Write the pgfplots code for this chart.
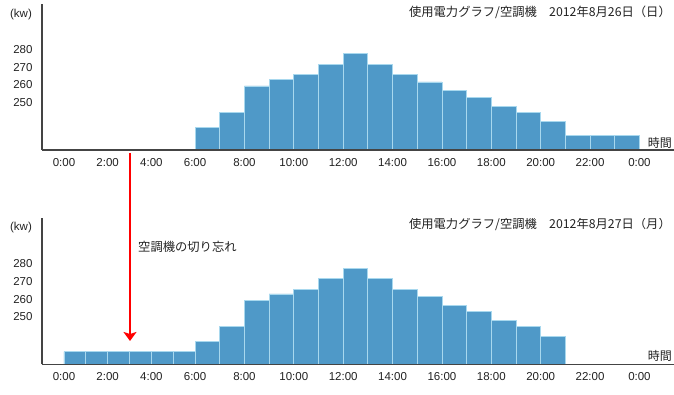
\documentclass[border=0pt]{standalone}
\usepackage{pgfplots}
\pgfplotsset{compat=1.18}
\usepackage{fontspec}
\setmainfont{Liberation Sans}
\newfontfamily\jp{Noto Sans CJK JP}
\usetikzlibrary{arrows.meta}
\definecolor{barfill}{HTML}{4F99C8}
\definecolor{baredge}{HTML}{A8D8EE}
\definecolor{axisgray}{HTML}{444444}
\definecolor{txt}{HTML}{222222}

\pgfplotsset{
  kwstyle/.style={
    scale only axis,
    width=632pt, height=146pt,
    anchor=south west,
    xmin=-1.006, xmax=25.4,
    ymin=223, ymax=306,
    x coord trafo/.code={\pgfmathparse{##1+0.115*max(6-##1,0)}},
    axis x line*=bottom, axis y line*=left,
    axis line style={-, draw=axisgray, line width=1.1pt},
    axis on top,
    major tick length=0pt,
    xtick={0,2,4,6,8,10,12,14,16,18,20,22,24},
    xticklabels={0:00,2:00,4:00,6:00,8:00,10:00,12:00,14:00,16:00,18:00,20:00,22:00,0:00},
    ytick={250,260,270,280},
    /pgf/number format/assume math mode=true,
    tick label style={font=\fontsize{11.5}{13}\selectfont, text=txt},
    yticklabel style={xshift=-6pt},
    xticklabel style={yshift=-4.5pt},
    clip=true,
  }
}

\begin{document}
\begin{tikzpicture}
% top chart: 2012-08-26
\begin{axis}[kwstyle, at={(42pt,245pt)}]
\addplot[ybar interval, fill=barfill, draw=baredge, line width=0.8pt] coordinates {
(6,235.9) (7,244.3) (8,259.4) (9,263.0) (10,265.7) (11,271.7) (12,277.7)
(13,271.7) (14,265.8) (15,261.7) (16,256.7) (17,253.1) (18,247.7) (19,244.5)
(20,239.0) (21,231.4) (22,231.4) (23,231.4) (24,231.4)};
\node[anchor=east, text=txt, font=\jp\fontsize{12.3}{14}\selectfont, inner sep=0pt]
  at ([xshift=-3pt,yshift=-8pt]rel axis cs:1,1) {使用電力グラフ/空調機　2012年8月26日（日）};
\node[anchor=east, text=txt, font=\jp\fontsize{12}{14}\selectfont, inner sep=0pt]
  at ([xshift=-2pt,yshift=7pt]rel axis cs:1,0) {時間};
\end{axis}
% bottom chart: 2012-08-27
\begin{axis}[kwstyle, at={(42pt,30.7pt)}]
\addplot[ybar interval, fill=barfill, draw=baredge, line width=0.8pt] coordinates {
(0,230.2) (1,230.2) (2,230.2) (3,230.2) (4,230.2) (5,230.2)
(6,235.9) (7,244.3) (8,259.4) (9,263.0) (10,265.7) (11,271.7) (12,277.7)
(13,271.7) (14,265.8) (15,261.7) (16,256.7) (17,253.1) (18,247.7) (19,244.5)
(20,239.0) (21,239.0)};
\node[anchor=east, text=txt, font=\jp\fontsize{12.3}{14}\selectfont, inner sep=0pt]
  at ([xshift=-3pt,yshift=-6pt]rel axis cs:1,1) {使用電力グラフ/空調機　2012年8月27日（月）};
\node[anchor=east, text=txt, font=\jp\fontsize{12}{14}\selectfont, inner sep=0pt]
  at ([xshift=-2pt,yshift=8pt]rel axis cs:1,0) {時間};
\end{axis}
% units
\node[text=txt, font=\fontsize{11.5}{13}\selectfont, inner sep=0pt] at (21pt,380pt) {(kw)};
\node[text=txt, font=\fontsize{11.5}{13}\selectfont, inner sep=0pt] at (21pt,167pt) {(kw)};
% annotation arrow
\draw[red, line width=2pt, -{Stealth[length=9pt,width=13pt,inset=2pt]}] (130pt,242pt) -- (130pt,54pt);
\node[anchor=west, text=txt, font=\jp\fontsize{12.3}{14}\selectfont, inner sep=0pt] at (138pt,148.3pt) {空調機の切り忘れ};
\pgfresetboundingbox
\useasboundingbox (0,0) rectangle (674pt,395pt);
\end{tikzpicture}
\end{document}
